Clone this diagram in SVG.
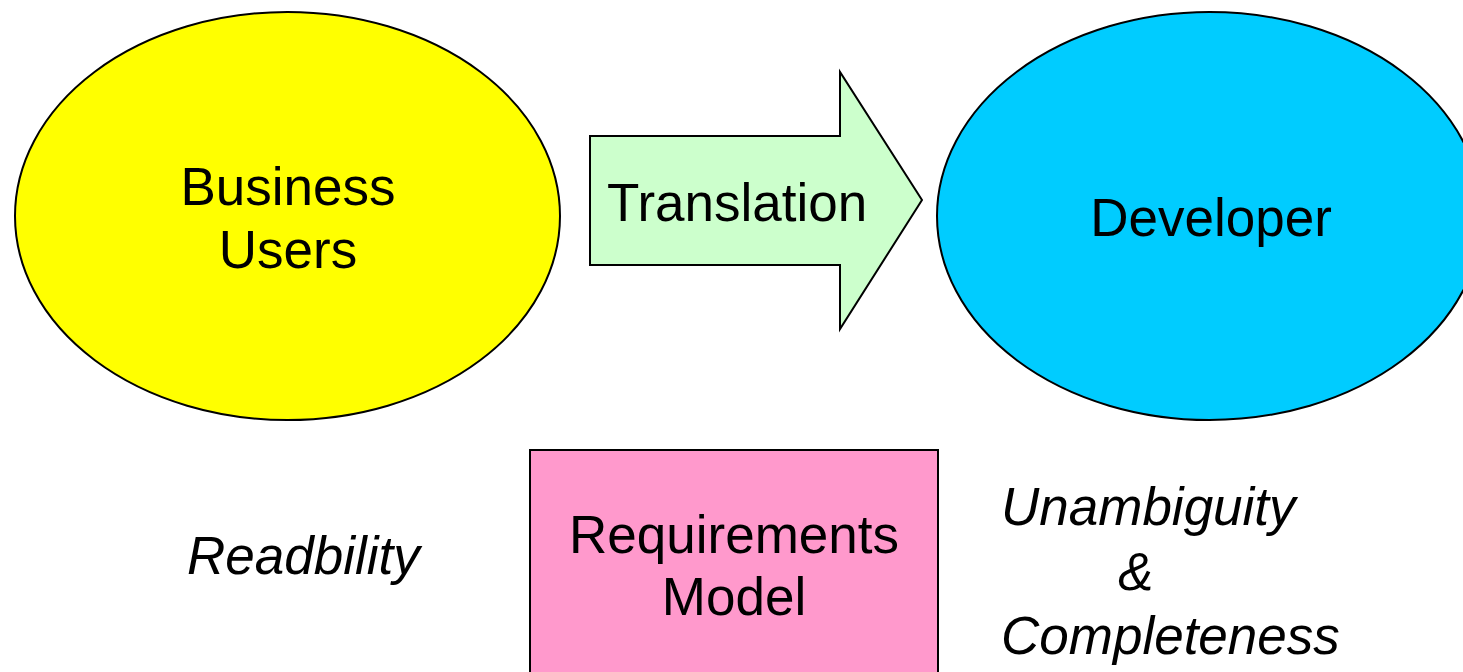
<svg xmlns="http://www.w3.org/2000/svg" width="1463" height="672" viewBox="0 0 1463 672">
<style>
.s{stroke:#000;stroke-width:2}
text{font-family:"Liberation Sans",Arial,sans-serif;font-size:53px;fill:#000}
.c{text-anchor:middle}
.i{font-style:italic}
</style>
<rect width="1463" height="672" fill="#fff"/>
<g id="business-users">
<ellipse class="s" cx="287.5" cy="216" rx="272.5" ry="204" fill="#FFFF00"/>
<text class="c" x="288" y="205">Business</text>
<text class="c" x="288" y="268">Users</text>
</g>
<g id="developer">
<ellipse class="s" cx="1209.5" cy="216" rx="272.5" ry="204" fill="#00CCFF"/>
<text class="c" x="1211" y="236">Developer</text>
</g>
<g id="connectors">
<g id="translation">
<path class="s" d="M590,136 H840 V72 L922,200 L840,329 V265 H590 Z" fill="#CCFFCC"/>
<text x="607" y="221">Translation</text>
</g>
</g>
<g id="requirements-model">
<rect class="s" x="530" y="450" width="408" height="240" fill="#FF99CC"/>
<text class="c" x="734" y="553">Requirements</text>
<text class="c" x="734" y="615">Model</text>
</g>
<g id="labels">
<text class="i" x="187" y="574">Readbility</text>
<text class="i" x="1001" y="525">Unambiguity</text>
<text class="i" x="1118" y="590">&amp;</text>
<text class="i" x="1001" y="654">Completeness</text>
</g>
</svg>
